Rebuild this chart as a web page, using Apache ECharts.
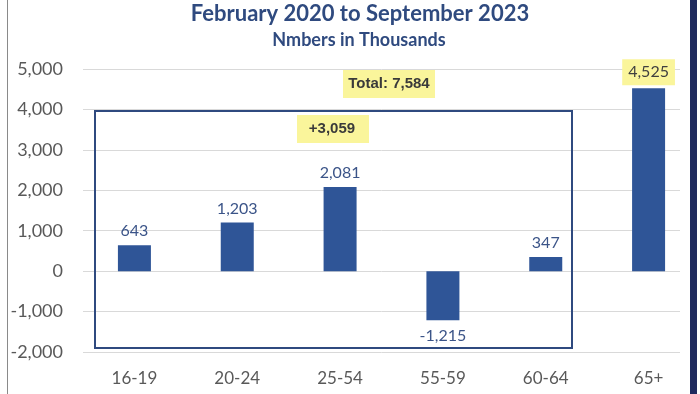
<!DOCTYPE html>
<html><head><meta charset="utf-8">
<script src="https://cdn.jsdelivr.net/npm/echarts@6/dist/echarts.min.js"></script>
<style>html,body{margin:0;padding:0;background:#fff}#c{width:700px;height:394px}</style>
</head><body><div id="c"></div>
<script>
const categories = ['16-19', '20-24', '25-54', '55-59', '60-64', '65+'];
const values = [643, 1203, 2081, -1215, 347, 4525];
const yMin = -2000, yMax = 5000, yInterval = 1000;
const titleText = 'February 2020 to September 2023';
const subtitleText = 'Nmbers in Thousands';
const totalLabel = 'Total: 7,584';
const subtotalLabel = '+3,059';

const navy = '#2F4A7F';
const barColor = '#2F5597';
const font = 'Lato, "Noto Sans", sans-serif';
const fmt = v => v.toLocaleString('en-US');

const chart = echarts.init(document.getElementById('c'), null, {renderer: 'canvas'});

const seriesData = values.map((v, i) => {
  const item = {value: v};
  if (v < 0) {
    item.label = {position: 'bottom', distance: 8};
  }
  if (i === values.length - 1) {
    item.label = {
      position: 'top', distance: 3, color: '#3f3f3f',
      backgroundColor: '#FAF59B', padding: [5, 6, 5, 6]
    };
  }
  return item;
});

chart.setOption({
  animation: false,
  backgroundColor: '#fff',
  grid: [
    {left: 83, top: 69, width: 618, height: 283},
    {left: 83, top: 69, width: 597, height: 283}
  ],
  xAxis: [
    {type: 'category', gridIndex: 0, data: categories,
     axisLine: {show: false}, axisTick: {show: false},
     axisLabel: {color: '#595959', fontSize: 17, fontFamily: font, margin: 18}},
    {type: 'value', gridIndex: 1, show: false, min: 0, max: 1}
  ],
  yAxis: [
    {type: 'value', gridIndex: 0, min: yMin, max: yMax, interval: yInterval, show: false},
    {type: 'value', gridIndex: 1, min: yMin, max: yMax, interval: yInterval,
     axisLine: {show: false}, axisTick: {show: false},
     splitLine: {lineStyle: {color: '#D9D9D9', width: 1}},
     axisLabel: {color: '#595959', fontSize: 18, fontFamily: font, margin: 20,
       formatter: v => fmt(v)}}
  ],
  series: [{
    type: 'bar', xAxisIndex: 0, yAxisIndex: 0, data: seriesData,
    barWidth: 33, itemStyle: {color: barColor}, z: 3,
    label: {show: true, position: 'top', distance: 6, color: '#3B5488',
      fontSize: 16, fontFamily: font, formatter: p => fmt(p.value)}
  }],
  graphic: [
    {type: 'text', x: 360, y: 14, style: {
      text: titleText, fill: '#2F4A7F', align: 'center', verticalAlign: 'middle',
      font: 'bold 22px ' + font}},
    {type: 'text', x: 359, y: 40, style: {
      text: subtitleText, fill: '#2F4A7F', align: 'center', verticalAlign: 'middle',
      font: 'bold 18px ' + font}},
    {type: 'rect', shape: {x: 95, y: 111, width: 477, height: 237},
     style: {fill: 'none', stroke: navy, lineWidth: 2}, z: 10},
    {type: 'rect', shape: {x: 343, y: 70, width: 92, height: 28},
     style: {fill: '#FAF59B'}, z: 10},
    {type: 'text', x: 389, y: 84, z: 11, style: {text: totalLabel,
      fill: '#3a3a3a', font: 'bold 15px "Liberation Sans", Arial, sans-serif',
      align: 'center', verticalAlign: 'middle'}},
    {type: 'rect', shape: {x: 297, y: 115, width: 72, height: 28},
     style: {fill: '#FAF59B'}, z: 10},
    {type: 'text', x: 332, y: 129, z: 11, style: {text: subtotalLabel,
      fill: '#3a3a3a', font: 'bold 15px "Liberation Sans", Arial, sans-serif',
      align: 'center', verticalAlign: 'middle'}},
    {type: 'rect', shape: {x: 7, y: 0, width: 1, height: 394},
     style: {fill: '#8a8a8a'}, z: 20},
    {type: 'rect', shape: {x: 690, y: 0, width: 7, height: 394},
     style: {fill: '#1F2A5E'}, z: 20}
  ]
});
</script></body></html>
